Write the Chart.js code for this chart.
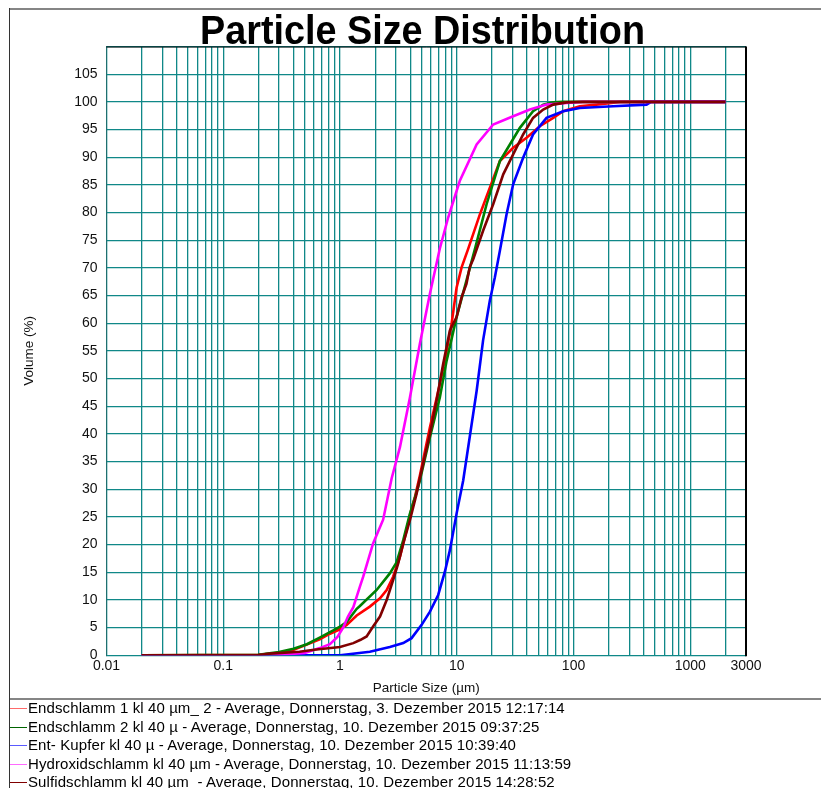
<!DOCTYPE html>
<html>
<head>
<meta charset="utf-8">
<script src="https://cdn.jsdelivr.net/npm/chart.js@4.4.1/dist/chart.umd.min.js"></script>
<style>
  body { margin: 0; background: #fff; font-family: "Liberation Sans", Arial, sans-serif; }
  #page { position: relative; width: 821px; height: 788px; overflow: hidden; background: #fff; }
  #chartBox { position: absolute; left: 0; top: 0; width: 821px; height: 700px; }
  .frame-top { position: absolute; left: 10px; top: 8px; width: 811px; height: 2px; background: #858585; }
  .frame-left { position: absolute; left: 9px; top: 8px; width: 1px; height: 780px; background: #333; }
  .separator { position: absolute; left: 10px; top: 698px; width: 811px; height: 2px; background: #858585; }
  #legend { position: absolute; left: 10px; top: 699px; width: 811px; height: 89px; }
  .item { height: 18.5px; line-height: 18.5px; font-size: 15px; letter-spacing: 0.1px; color: #000; white-space: pre; padding-left: 18px; }
  .swatch { position: absolute; left: 0; width: 17px; height: 1px; }
</style>
</head>
<body>
<div id="page">
  <div class="frame-top"></div>
  <div class="frame-left"></div>
  <div id="chartBox"><canvas id="psd" width="821" height="700"></canvas></div>
  <div class="separator"></div>
  <div id="legend"></div>
</div>
<script>
// labelled x ticks (µm) and y ticks (%)
const xTickLabels = [0.01, 0.1, 1, 10, 100, 1000, 3000];
const yTickValues = [0, 5, 10, 15, 20, 25, 30, 35, 40, 45, 50, 55, 60, 65, 70, 75, 80, 85, 90, 95, 100, 105, 110];

// Endschlamm 1
const end1Sizes = [0.02, 0.2, 0.3, 0.4, 0.5, 0.67, 0.82, 1.0, 1.14, 1.39, 1.8, 2.2, 2.51, 2.85, 3.26, 3.72, 4.1, 4.38, 4.83, 5.89, 7.16, 8.18, 9.03, 9.96, 11.0, 12.5, 15.8, 19.2, 23.4, 30.4, 39.6, 51.4, 67, 81.5, 113, 157, 250, 2000];
const end1Volume = [0, 0.1, 0.4, 1.0, 1.8, 2.9, 3.9, 4.7, 5.5, 7.2, 8.8, 10.3, 11.8, 14.2, 17.8, 22.6, 26.5, 28.6, 32.5, 41.2, 49, 55, 59.9, 66.4, 70.1, 73.4, 79.7, 84.5, 89.3, 91.7, 93.5, 95.6, 97.1, 98.3, 99.2, 99.5, 100, 100];

// Endschlamm 2
const end2Sizes = [0.02, 0.2, 0.3, 0.4, 0.52, 0.67, 0.875, 1.0, 1.14, 1.39, 1.48, 2.06, 2.67, 3.05, 3.48, 3.97, 4.53, 4.83, 5.89, 7.16, 8.18, 9.96, 12.1, 14.3, 18.0, 23.4, 28.5, 34.7, 45, 55, 67, 80, 2000];
const end2Volume = [0, 0.1, 0.6, 1.2, 2.0, 3.2, 4.5, 5.2, 6.0, 8.4, 8.9, 11.8, 14.8, 16.8, 20.8, 25.6, 29.5, 31.6, 39.4, 46.6, 53.2, 61.1, 67.7, 73.4, 81.5, 89.3, 92.3, 95.3, 98.3, 99.5, 99.9, 100, 100];

// Ent- Kupfer
const kupferSizes = [0.02, 1.0, 1.8, 2.67, 3.48, 4.1, 5.0, 5.89, 6.93, 7.91, 8.73, 9.96, 11.35, 12.9, 14.8, 16.8, 19.2, 21.2, 23.4, 26.7, 30.4, 37, 45, 58.7, 81.5, 113, 218, 422, 460, 2000];
const kupferVolume = [0, 0, 0.65, 1.5, 2.2, 3.1, 5.5, 7.9, 10.9, 15.1, 19.0, 25.6, 31.6, 39.4, 47.8, 56.9, 64.1, 68.3, 73.1, 79.7, 85.1, 89.9, 94.1, 97.1, 98.3, 98.9, 99.2, 99.5, 100, 100];

// Hydroxidschlamm
const hydroSizes = [0.02, 0.2, 0.3, 0.5, 0.67, 0.82, 0.95, 1.07, 1.17, 1.3, 1.48, 1.58, 1.92, 2.34, 2.77, 3.26, 3.97, 4.83, 5.88, 7.16, 8.44, 10.6, 14.8, 20.5, 30.4, 42.3, 58.7, 87, 120, 2000];
const hydroVolume = [0, 0, 0.1, 0.4, 1.3, 2.0, 3.3, 5.1, 7.0, 8.7, 12.4, 14.2, 20.2, 24.5, 32.0, 37.6, 46.6, 56.3, 65.3, 73.5, 79.1, 85.7, 92.3, 95.9, 97.4, 98.6, 99.5, 99.8, 100, 100];

// Sulfidschlamm
const sulfidSizes = [0.02, 0.2, 0.25, 0.45, 0.6, 1.0, 1.3, 1.5, 1.69, 1.92, 2.2, 2.51, 2.85, 3.15, 3.48, 3.97, 4.53, 4.83, 5.89, 6.71, 7.65, 8.73, 9.96, 11.0, 12.1, 12.9, 13.8, 16.8, 20.5, 25, 30.4, 37, 45, 55, 67, 87, 120, 2000];
const sulfidVolume = [0, 0.05, 0.3, 0.65, 1.0, 1.5, 2.2, 2.8, 3.4, 5.2, 7.0, 10.0, 13.6, 16.6, 20.2, 24.4, 29.2, 32.0, 40.0, 46.0, 52.7, 58.7, 61.1, 64.7, 67.1, 70.1, 71.5, 76.7, 81.5, 86.9, 90.5, 94.1, 97.1, 98.6, 99.5, 99.9, 100, 100];

const seriesNames = [
  "Endschlamm 1 kl 40 µm_ 2 - Average, Donnerstag, 3. Dezember 2015 12:17:14",
  "Endschlamm 2 kl 40 µ - Average, Donnerstag, 10. Dezember 2015 09:37:25",
  "Ent- Kupfer kl 40 µ - Average, Donnerstag, 10. Dezember 2015 10:39:40",
  "Hydroxidschlamm kl 40 µm - Average, Donnerstag, 10. Dezember 2015 11:13:59",
  "Sulfidschlamm kl 40 µm  - Average, Donnerstag, 10. Dezember 2015 14:28:52"
];
const seriesColors = ["#ff0000", "#008000", "#0000ff", "#ff00ff", "#800000"];
const legendColors = ["#ff6a6a", "#006400", "#5a5aff", "#ff6aff", "#800000"];

// gridlines: 1..9 per decade, then 2000 and 3000
const gridValues = [];
for (let e = -2; e <= 2; e++) {
  for (let m = 1; m <= 9; m++) gridValues.push(m * Math.pow(10, e));
}
gridValues.push(1000, 2000, 3000);

const FONT = '"Liberation Sans", Arial, sans-serif';
const GRID = "#108888";

function pts(xs, ys) {
  return xs.map((x, i) => ({ x: x, y: ys[i] }));
}

const allSizes = [end1Sizes, end2Sizes, kupferSizes, hydroSizes, sulfidSizes];
const allVolumes = [end1Volume, end2Volume, kupferVolume, hydroVolume, sulfidVolume];

const datasets = seriesNames.map((name, i) => ({
  label: name,
  data: pts(allSizes[i], allVolumes[i]),
  borderColor: seriesColors[i],
  backgroundColor: seriesColors[i],
  borderWidth: 2.6,
  pointRadius: 0,
  tension: 0,
  fill: false,
  order: 5 - i
}));

// title + top/right frame of the plot
const decorations = {
  id: "decorations",
  afterDraw(chart) {
    const { ctx, chartArea } = chart;
    ctx.save();
    ctx.strokeStyle = "#000";
    ctx.lineWidth = 1;
    ctx.beginPath();
    ctx.moveTo(chartArea.left, chartArea.top + 0.5);
    ctx.lineTo(chartArea.right, chartArea.top + 0.5);
    ctx.stroke();
    ctx.lineWidth = 2;
    ctx.beginPath();
    ctx.moveTo(chartArea.right, chartArea.top);
    ctx.lineTo(chartArea.right, chartArea.bottom + 1);
    ctx.stroke();

    ctx.font = "bold 40px " + FONT;
    ctx.fillStyle = "#000";
    ctx.textAlign = "center";
    ctx.textBaseline = "alphabetic";
    const text = "Particle Size Distribution";
    const w = ctx.measureText(text).width;
    ctx.translate(422.5, 44);
    ctx.scale(445 / w, 1);
    ctx.fillText(text, 0, 0);
    ctx.restore();
  }
};

new Chart(document.getElementById("psd"), {
  type: "line",
  data: { datasets: datasets },
  plugins: [decorations],
  options: {
    responsive: false,
    devicePixelRatio: 1,
    animation: false,
    layout: { padding: { top: 46.5, right: 75, left: 0, bottom: 0 } },
    plugins: {
      legend: { display: false },
      title: { display: false },
      tooltip: { enabled: false }
    },
    scales: {
      x: {
        type: "logarithmic",
        min: 0.01,
        max: 3000,
        afterBuildTicks: (s) => { s.ticks = gridValues.map((v) => ({ value: v })); },
        afterFit: (s) => { s.height = 44.7; },
        grid: { color: GRID, lineWidth: 1.3, drawTicks: false },
        border: { color: GRID },
        ticks: {
          autoSkip: false,
          maxRotation: 0,
          padding: 2,
          color: "#111",
          font: { family: FONT, size: 14 },
          callback: (v) => {
            const m = xTickLabels.find((t) => Math.abs(t - v) / t < 1e-6);
            return m !== undefined ? String(m) : "";
          }
        },
        title: {
          display: true,
          text: "Particle Size (µm)",
          color: "#111",
          font: { family: FONT, size: 13.5 },
          padding: { top: 0, bottom: 4 }
        }
      },
      y: {
        min: 0,
        max: 110,
        afterBuildTicks: (s) => { s.ticks = yTickValues.map((v) => ({ value: v })); },
        afterFit: (s) => { s.width = 106.5; },
        grid: { color: GRID, lineWidth: 1.3, drawTicks: false },
        border: { color: "#1f6f6f" },
        ticks: {
          padding: 9,
          color: "#111",
          font: { family: FONT, size: 14 },
          callback: (v) => (v > 105 ? "" : String(v))
        },
        title: {
          display: true,
          text: "Volume (%)",
          color: "#111",
          font: { family: FONT, size: 13.5 },
          padding: { top: 21, bottom: 0 }
        }
      }
    }
  }
});

// legend below the plot
const legend = document.getElementById("legend");
seriesNames.forEach((name, i) => {
  const row = document.createElement("div");
  row.className = "item";
  row.textContent = name;
  legend.appendChild(row);
  const sw = document.createElement("span");
  sw.className = "swatch";
  sw.style.top = Math.round(9 + 18.5 * i) + "px";
  sw.style.background = legendColors[i];
  legend.appendChild(sw);
});
</script>
</body>
</html>
